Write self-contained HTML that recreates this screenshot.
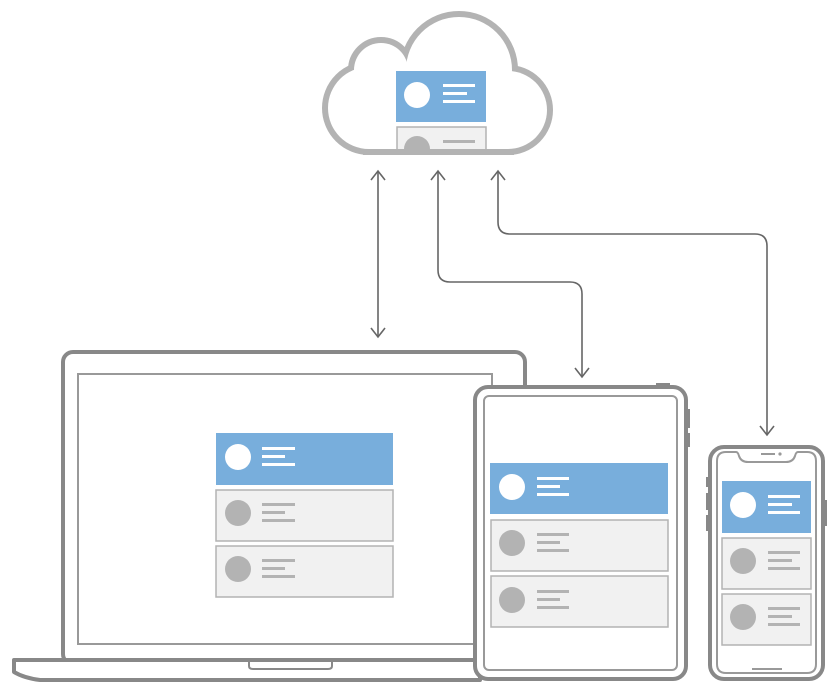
<!DOCTYPE html>
<html><head><meta charset="utf-8"><style>html,body{margin:0;padding:0;background:#fff}svg{display:block}</style></head>
<body>
<svg width="839" height="694" viewBox="0 0 839 694" xmlns="http://www.w3.org/2000/svg">
<!-- cloud (union outline) -->
<g stroke="#b3b3b3" stroke-width="12" fill="#b3b3b3">
<circle cx="369" cy="108" r="41"/>
<circle cx="381" cy="70" r="27"/>
<circle cx="459" cy="70" r="53"/>
<circle cx="508" cy="110" r="39"/>
<rect x="369" y="80" width="139" height="69"/>
</g>
<g fill="#fff">
<circle cx="369" cy="108" r="41"/>
<circle cx="381" cy="70" r="27"/>
<circle cx="459" cy="70" r="53"/>
<circle cx="508" cy="110" r="39"/>
<rect x="369" y="80" width="139" height="69"/>
</g>
<rect x="396" y="71" width="90" height="51" fill="#78aedc"/>
<circle cx="417" cy="95" r="13" fill="#fff"/>
<rect x="443" y="84" width="32" height="3" fill="#fff"/><rect x="443" y="92" width="24" height="3" fill="#fff"/><rect x="443" y="100" width="32" height="3" fill="#fff"/>
<path d="M397,149 V127 H486 V149" fill="#f1f1f1" stroke="#b3b3b3" stroke-width="1.5"/>
<path d="M404,149 A13,13 0 0 1 430,149 Z" fill="#b3b3b3"/>
<rect x="443" y="140" width="32" height="3" fill="#b3b3b3"/>
<!-- arrows -->
<g fill="none" stroke="#666" stroke-width="1.6">
<line x1="378" y1="172" x2="378" y2="336"/>
<path d="M371,180 L378,171 L385,180 M371,328 L378,337 L385,328"/>
<path d="M438,172 V270 Q438,282 450,282 H570 Q582,282 582,294 V376"/>
<path d="M431,180 L438,171 L445,180 M575,368 L582,377 L589,368"/>
<path d="M498,172 V222 Q498,234 510,234 H755 Q767,234 767,246 V434"/>
<path d="M491,180 L498,171 L505,180 M760,426 L767,435 L774,426"/>
</g>
<!-- laptop -->
<rect x="63" y="352" width="462" height="312" rx="10" fill="#fff" stroke="#888" stroke-width="4"/>
<rect x="78" y="374" width="414" height="270" fill="#fff" stroke="#999" stroke-width="2"/>
<path d="M14,660 H480 V680 H40 Q24,678 14,672 Z" fill="#fff" stroke="#888" stroke-width="4" stroke-linejoin="round"/>
<path d="M249,661 V666 Q249,669 253,669 H328 Q332,669 332,666 V661" fill="none" stroke="#888" stroke-width="2"/>
<g>
<rect x="216" y="433" width="177" height="52" fill="#78aedc"/>
<circle cx="238" cy="457" r="13" fill="#fff"/>
<rect x="262" y="447" width="33" height="3" fill="#fff"/><rect x="262" y="455" width="23" height="3" fill="#fff"/><rect x="262" y="463" width="33" height="3" fill="#fff"/>
<rect x="216" y="490" width="177" height="51" fill="#f1f1f1" stroke="#b3b3b3" stroke-width="1.5"/>
<circle cx="238" cy="513" r="13" fill="#b3b3b3"/>
<rect x="262" y="503" width="33" height="3" fill="#b3b3b3"/><rect x="262" y="511" width="23" height="3" fill="#b3b3b3"/><rect x="262" y="519" width="33" height="3" fill="#b3b3b3"/>
<rect x="216" y="546" width="177" height="51" fill="#f1f1f1" stroke="#b3b3b3" stroke-width="1.5"/>
<circle cx="238" cy="569" r="13" fill="#b3b3b3"/>
<rect x="262" y="559" width="33" height="3" fill="#b3b3b3"/><rect x="262" y="567" width="23" height="3" fill="#b3b3b3"/><rect x="262" y="575" width="33" height="3" fill="#b3b3b3"/>
</g>
<!-- tablet -->
<rect x="656" y="383" width="14" height="4" fill="#888"/>
<rect x="686" y="409" width="4" height="19" fill="#888"/><rect x="686" y="433" width="4" height="14" fill="#888"/>
<rect x="475" y="387" width="211" height="292" rx="13" fill="#fff" stroke="#888" stroke-width="4"/>
<rect x="484" y="396" width="193" height="274" rx="5" fill="#fff" stroke="#999" stroke-width="2"/>
<g>
<rect x="490" y="463" width="178" height="51" fill="#78aedc"/>
<circle cx="512" cy="487" r="13" fill="#fff"/>
<rect x="537" y="477" width="32" height="3" fill="#fff"/><rect x="537" y="485" width="23" height="3" fill="#fff"/><rect x="537" y="493" width="32" height="3" fill="#fff"/>
<rect x="491" y="520" width="177" height="51" fill="#f1f1f1" stroke="#b3b3b3" stroke-width="1.5"/>
<circle cx="512" cy="543" r="13" fill="#b3b3b3"/>
<rect x="537" y="533" width="32" height="3" fill="#b3b3b3"/><rect x="537" y="541" width="23" height="3" fill="#b3b3b3"/><rect x="537" y="549" width="32" height="3" fill="#b3b3b3"/>
<rect x="491" y="576" width="177" height="51" fill="#f1f1f1" stroke="#b3b3b3" stroke-width="1.5"/>
<circle cx="512" cy="600" r="13" fill="#b3b3b3"/>
<rect x="537" y="590" width="32" height="3" fill="#b3b3b3"/><rect x="537" y="598" width="23" height="3" fill="#b3b3b3"/><rect x="537" y="606" width="32" height="3" fill="#b3b3b3"/>
</g>
<!-- phone -->
<rect x="706" y="477" width="4" height="10" fill="#888"/><rect x="706" y="493" width="4" height="17" fill="#888"/><rect x="706" y="515" width="4" height="16" fill="#888"/>
<rect x="823" y="500" width="4" height="26" fill="#888"/>
<rect x="710" y="447" width="113" height="232" rx="14" fill="#fff" stroke="#888" stroke-width="4"/>
<path d="M726,452 H736 Q738,452 739,456 Q741,462 748,462 H786 Q793,462 795,456 Q796,452 798,452 H807 Q816,452 816,461 V664 Q816,673 807,673 H726 Q717,673 717,664 V461 Q717,452 726,452 Z" fill="#fff" stroke="#999" stroke-width="2"/>
<line x1="761" y1="454" x2="775" y2="454" stroke="#999" stroke-width="2"/><circle cx="780" cy="454" r="1.6" fill="#999"/>
<line x1="752" y1="669" x2="782" y2="669" stroke="#999" stroke-width="2"/>
<g>
<rect x="722" y="481" width="89" height="52" fill="#78aedc"/>
<circle cx="743" cy="505" r="13" fill="#fff"/>
<rect x="768" y="495" width="32" height="3" fill="#fff"/><rect x="768" y="503" width="24" height="3" fill="#fff"/><rect x="768" y="511" width="32" height="3" fill="#fff"/>
<rect x="722" y="538" width="89" height="51" fill="#f1f1f1" stroke="#b3b3b3" stroke-width="1.5"/>
<circle cx="743" cy="561" r="13" fill="#b3b3b3"/>
<rect x="768" y="551" width="32" height="3" fill="#b3b3b3"/><rect x="768" y="559" width="24" height="3" fill="#b3b3b3"/><rect x="768" y="567" width="32" height="3" fill="#b3b3b3"/>
<rect x="722" y="594" width="89" height="51" fill="#f1f1f1" stroke="#b3b3b3" stroke-width="1.5"/>
<circle cx="743" cy="617" r="13" fill="#b3b3b3"/>
<rect x="768" y="607" width="32" height="3" fill="#b3b3b3"/><rect x="768" y="615" width="24" height="3" fill="#b3b3b3"/><rect x="768" y="623" width="32" height="3" fill="#b3b3b3"/>
</g>
</svg>
</body></html>
